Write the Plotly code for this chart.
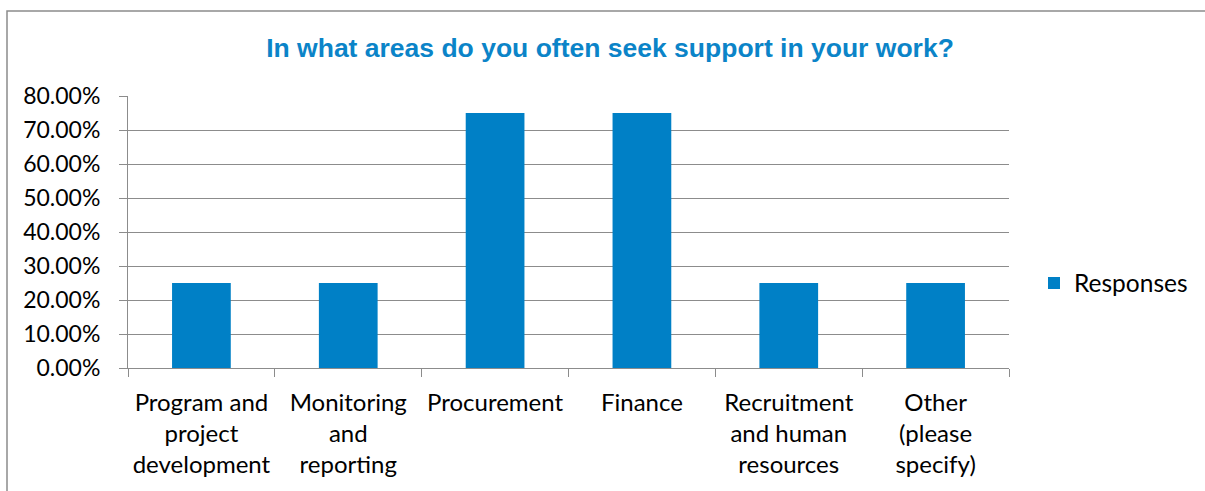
import plotly.graph_objects as go

# Survey responses: share of respondents per support area
categories = [
    "Program and<br>project<br>development",
    "Monitoring<br>and<br>reporting",
    "Procurement",
    "Finance",
    "Recruitment<br>and human<br>resources",
    "Other<br>(please<br>specify)",
]
responses = [0.25, 0.25, 0.75, 0.75, 0.25, 0.25]
y_ticks = [0, 0.1, 0.2, 0.3, 0.4, 0.5, 0.6, 0.7, 0.8]

W, H = 1205, 491
L, R, T, B = 128, 196, 96, 123
pw, ph = W - L - R, H - T - B

bar_color = "#0080C6"
grid_color = "#8C8C8C"
family = "Lato, Carlito, Calibri, sans-serif"
y_font = dict(family=family, size=23, color="#000000")
x_font = dict(family=family, size=24, color="#000000")
legend_font = dict(family=family, size=24.5, color="#000000")

fig = go.Figure(
    go.Bar(
        x=categories,
        y=responses,
        name="Responses",
        marker=dict(color=bar_color, line=dict(width=0)),
        width=0.4,
    )
)

fig.update_layout(
    width=W,
    height=H,
    margin=dict(l=L, r=R, t=T, b=B, autoexpand=False),
    paper_bgcolor="white",
    plot_bgcolor="white",
    title=dict(
        text="<b>In what areas do you often seek support in your work?</b>",
        font=dict(family="Liberation Sans, Arial, sans-serif", size=26.5, color="#0B84C8"),
        x=610 / W,
        xanchor="center",
        y=1 - 48 / H,
        yanchor="middle",
    ),
    showlegend=True,
    legend=dict(
        x=(1034 - L) / pw,
        xanchor="left",
        y=1 - (283 - T) / ph,
        yanchor="middle",
        font=legend_font,
        bgcolor="rgba(0,0,0,0)",
        itemwidth=30,
    ),
    bargap=0.6,
)

fig.update_xaxes(
    type="category",
    tickson="boundaries",
    tickangle=0,
    ticks="outside",
    ticklen=8,
    tickcolor=grid_color,
    tickwidth=1,
    showgrid=False,
    showline=True,
    linecolor=grid_color,
    linewidth=1,
    tickfont=x_font,
    ticklabelstandoff=13,
)

fig.update_yaxes(
    range=[0, 0.8],
    tickvals=y_ticks,
    tickformat=".2%",
    ticks="outside",
    ticklen=8,
    tickcolor=grid_color,
    tickwidth=1,
    showgrid=True,
    gridcolor=grid_color,
    gridwidth=1,
    showline=True,
    linecolor=grid_color,
    linewidth=1,
    zeroline=False,
    tickfont=y_font,
    ticklabelstandoff=14,
)

# Chart frame (runs off the right and bottom edges)
fig.add_shape(
    type="rect",
    xref="paper",
    yref="paper",
    x0=(7 - L) / pw,
    x1=(W + 20 - L) / pw,
    y0=1 + (T - 11) / ph,
    y1=-(B + 20) / ph,
    line=dict(color="#8C8C8C", width=1.5),
    fillcolor="rgba(0,0,0,0)",
    layer="below",
)

fig.write_html("out.html")
